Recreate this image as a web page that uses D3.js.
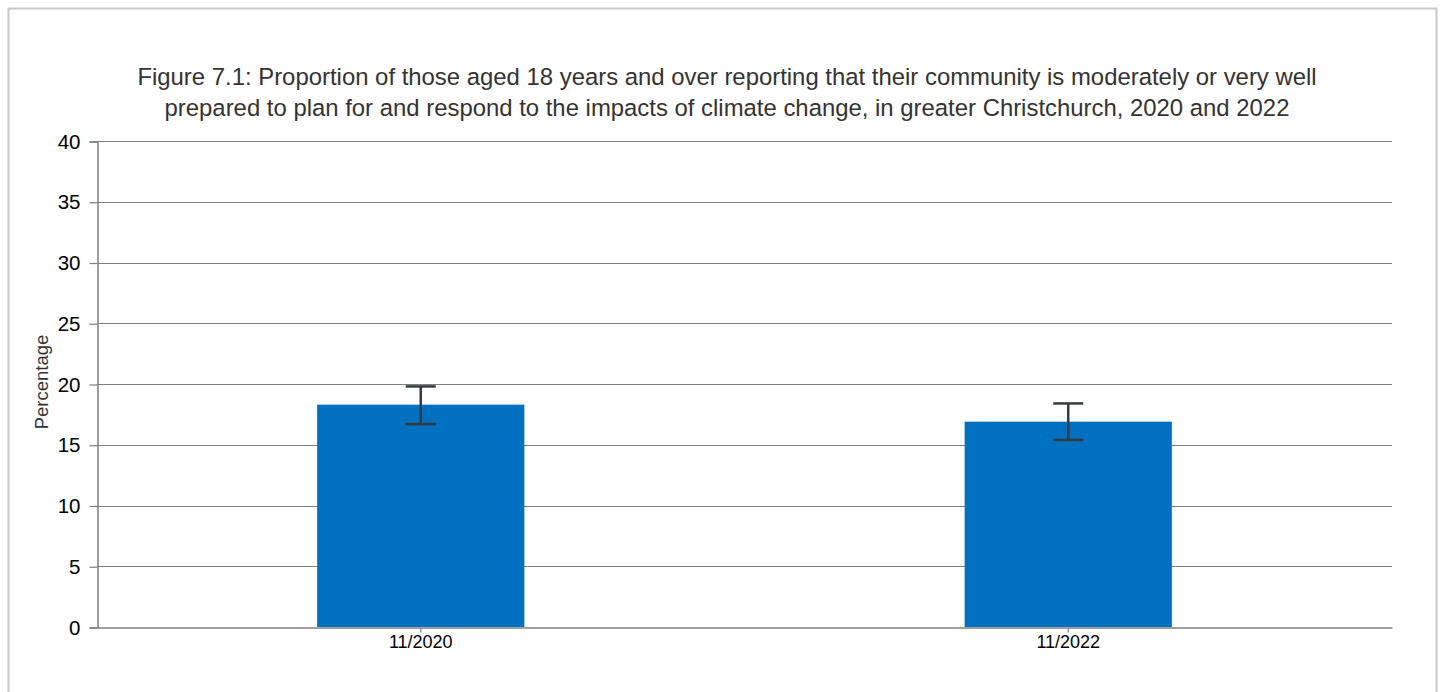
<!DOCTYPE html>
<html>
<head>
<meta charset="utf-8">
<script src="https://cdn.jsdelivr.net/npm/d3@7"></script>
<style>
  body { margin: 0; background: #fff; }
  svg { display: block; font-family: "Liberation Sans", Arial, sans-serif; }
</style>
</head>
<body>
<svg id="chart" width="1444" height="692"></svg>
<script>
// data
var categories = ["11/2020", "11/2022"];
var values = [18.3, 16.9];
var errLow = [16.7, 15.4];
var errHigh = [19.8, 18.4];
var yTicks = [0, 5, 10, 15, 20, 25, 30, 35, 40];
var titleLines = [
    "Figure 7.1: Proportion of those aged 18 years and over reporting that their community is moderately or very well",
    "prepared to plan for and respond to the impacts of climate change, in greater Christchurch, 2020 and 2022"
];

var svg = d3.select("#chart");

// outer frame
svg.append("rect")
    .attr("x", 8.5).attr("y", 8.5)
    .attr("width", 1428).attr("height", 720)
    .attr("fill", "none")
    .attr("stroke", "#c8c8c8")
    .attr("stroke-width", 2);

var plotLeft = 97, plotRight = 1392, plotTop = 141, plotBottom = 627;

var x = d3.scaleBand()
    .domain(categories)
    .range([plotLeft, plotRight])
    .paddingInner(0.68)
    .paddingOuter(0.34);

var y = d3.scaleLinear()
    .domain([0, 40])
    .range([plotBottom, plotTop]);

// title
svg.append("g").selectAll("text")
    .data(titleLines)
    .enter().append("text")
    .attr("x", 727)
    .attr("y", function (d, i) { return 85 + i * 31; })
    .attr("text-anchor", "middle")
    .attr("font-size", 23.9)
    .attr("fill", "#333")
    .text(function (d) { return d; });

// grid lines
svg.append("g").selectAll("line")
    .data(yTicks.slice(1))
    .enter().append("line")
    .attr("x1", plotLeft).attr("x2", plotRight)
    .attr("y1", function (d) { return Math.round(y(d)) + 0.5; })
    .attr("y2", function (d) { return Math.round(y(d)) + 0.5; })
    .attr("stroke", "#7f7f7f")
    .attr("stroke-width", 1.2);

// y axis
var yAxis = svg.append("g")
    .attr("transform", "translate(" + (plotLeft + 0.5) + ",0.5)")
    .call(d3.axisLeft(y).tickValues(yTicks).tickSize(8).tickPadding(9));
yAxis.select(".domain").attr("stroke", "#7f7f7f").attr("stroke-width", 1.5);
yAxis.selectAll(".tick line").attr("stroke", "#7f7f7f").attr("stroke-width", 1.2);
yAxis.selectAll(".tick text")
    .attr("font-size", 20.5)
    .attr("font-family", "Liberation Sans, Arial, sans-serif")
    .attr("fill", "#000");

// bars
svg.append("g").selectAll("rect")
    .data(values)
    .enter().append("rect")
    .attr("x", function (d, i) { return x(categories[i]); })
    .attr("y", function (d) { return y(d); })
    .attr("width", x.bandwidth())
    .attr("height", function (d) { return y(0) - y(d); })
    .attr("fill", "#0070c0");

// x axis
var xAxis = svg.append("g")
    .attr("transform", "translate(0," + (plotBottom + 0.5) + ")")
    .call(d3.axisBottom(x).tickSize(5).tickPadding(3).tickSizeOuter(0));
xAxis.select(".domain").attr("stroke", "#7f7f7f").attr("stroke-width", 1.5);
xAxis.selectAll(".tick line").attr("stroke", "#7f7f7f").attr("stroke-width", 1.2);
xAxis.selectAll(".tick text")
    .attr("font-size", 18)
    .attr("font-family", "Liberation Sans, Arial, sans-serif")
    .attr("fill", "#000");

// error bars
var err = svg.append("g").attr("stroke", "#333a44").attr("stroke-width", 2.5);
categories.forEach(function (c, i) {
    var cx = x(c) + x.bandwidth() / 2;
    err.append("line")
        .attr("x1", cx).attr("x2", cx)
        .attr("y1", y(errHigh[i])).attr("y2", y(errLow[i]));
    [errHigh[i], errLow[i]].forEach(function (v) {
        err.append("line")
            .attr("x1", cx - 15).attr("x2", cx + 15)
            .attr("y1", y(v)).attr("y2", y(v));
    });
});

// y axis label
svg.append("text")
    .attr("transform", "translate(48,382) rotate(-90)")
    .attr("text-anchor", "middle")
    .attr("font-size", 18.5)
    .attr("fill", "#333")
    .text("Percentage");
</script>
</body>
</html>
